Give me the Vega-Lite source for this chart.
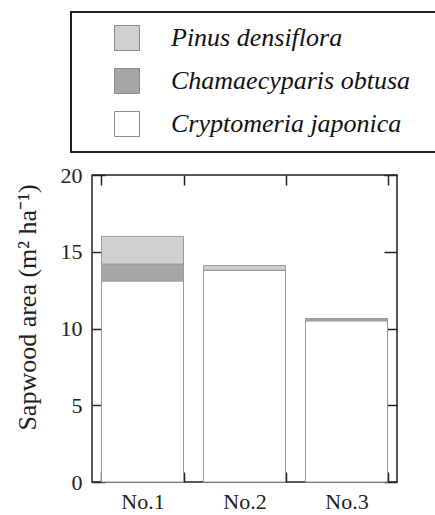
{
  "$schema": "https://vega.github.io/schema/vega-lite/v6.json",
  "autosize": {"type": "none"},
  "width": 305,
  "height": 307,
  "padding": {"left": 92, "top": 175, "right": 38, "bottom": 33},
  "background": "white",
  "config": {
    "view": {"stroke": "#222", "strokeWidth": 1.5},
    "font": "Liberation Serif",
    "axis": {
      "domain": false,
      "grid": false,
      "labelFont": "Liberation Serif",
      "labelFontSize": 22,
      "labelColor": "#222",
      "tickColor": "#222",
      "tickWidth": 1.5,
      "titleFont": "Liberation Serif",
      "titleFontSize": 26,
      "titleFontWeight": "normal",
      "titleColor": "#222"
    }
  },
  "data": {
    "values": [
      {"plot": "No.1", "species": "Cryptomeria japonica", "area": 13.1},
      {"plot": "No.1", "species": "Chamaecyparis obtusa", "area": 1.1},
      {"plot": "No.1", "species": "Pinus densiflora", "area": 1.8},
      {"plot": "No.2", "species": "Cryptomeria japonica", "area": 13.8},
      {"plot": "No.2", "species": "Chamaecyparis obtusa", "area": 0.0},
      {"plot": "No.2", "species": "Pinus densiflora", "area": 0.3},
      {"plot": "No.3", "species": "Cryptomeria japonica", "area": 10.5},
      {"plot": "No.3", "species": "Chamaecyparis obtusa", "area": 0.15},
      {"plot": "No.3", "species": "Pinus densiflora", "area": 0.0}
    ]
  },
  "transform": [
    {"calculate": "indexof(['Cryptomeria japonica','Chamaecyparis obtusa','Pinus densiflora'], datum.species)", "as": "stackOrder"}
  ],
  "layer": [
    {
      "mark": {"type": "bar", "stroke": "#999999", "strokeWidth": 1},
      "encoding": {
        "x": {
          "field": "plot", "type": "nominal",
          "scale": {"paddingInner": 0.196, "paddingOuter": 0.093},
          "axis": {"orient": "bottom", "title": null, "labelAngle": 0, "labelPadding": 19, "tickSize": -10, "tickBand": "extent"}
        },
        "y": {
          "field": "area", "type": "quantitative", "aggregate": "sum", "stack": "zero",
          "scale": {"domain": [0, 20], "nice": false},
          "axis": {"orient": "left", "title": "Sapwood area (m² ha⁻¹)", "values": [0, 5, 10, 15, 20], "tickSize": -13, "labelPadding": 23, "titleX": -52, "titleY": 132}
        },
        "color": {
          "field": "species", "type": "nominal",
          "scale": {
            "domain": ["Pinus densiflora", "Chamaecyparis obtusa", "Cryptomeria japonica"],
            "range": ["#d0d0d0", "#a6a6a6", "#ffffff"]
          },
          "legend": {
            "orient": "none", "legendX": -21, "legendY": -163,
            "title": null,
            "strokeColor": "#222",
            "padding": 13,
            "symbolType": "square", "symbolSize": 625,
            "symbolOffset": 30,
            "symbolStrokeColor": "#8a8a8a", "symbolStrokeWidth": 1,
            "symbolOpacity": 1,
            "labelFont": "Liberation Serif, Times New Roman, serif", "labelFontStyle": "italic",
            "labelFontSize": 26, "labelColor": "#111",
            "labelOffset": 31, "labelLimit": 600,
            "rowPadding": 13,
            "labelExpr": "datum.label + '\u2800'",
            "encode": {"legend": {"update": {"strokeWidth": {"value": 2}}}}
          }
        },
        "order": {"field": "stackOrder", "type": "quantitative"}
      }
    },
    {
      "mark": {"type": "bar", "opacity": 0},
      "encoding": {
        "x": {
          "field": "plot", "type": "nominal",
          "axis": {"orient": "top", "title": null, "labels": false, "tickSize": -10, "tickBand": "extent"}
        },
        "y": {
          "field": "area", "type": "quantitative", "aggregate": "sum",
          "axis": {"orient": "right", "title": null, "labels": false, "values": [0, 5, 10, 15, 20], "tickSize": -13}
        }
      }
    }
  ],
  "resolve": {"axis": {"x": "independent", "y": "independent"}}
}
